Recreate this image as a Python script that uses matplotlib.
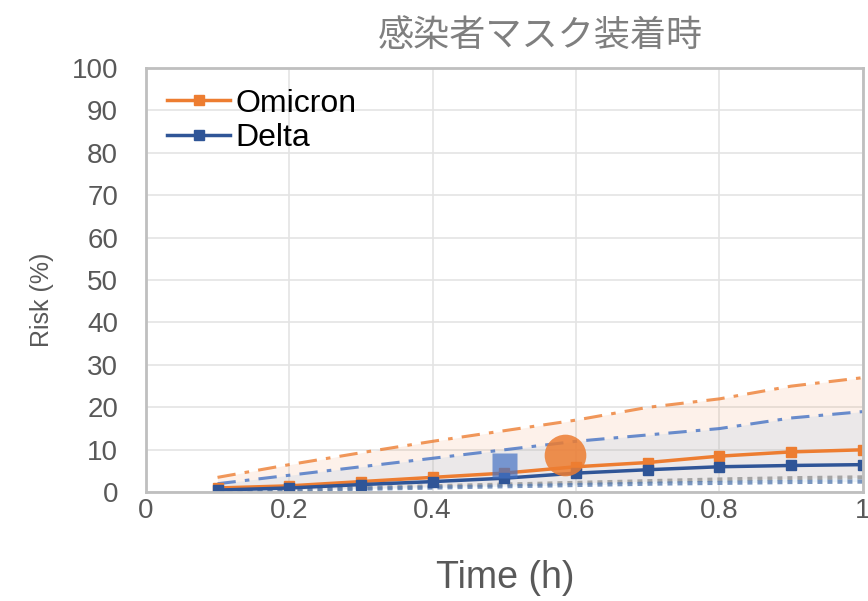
import matplotlib
matplotlib.use("Agg")
import matplotlib.pyplot as plt

plt.rcParams['font.family'] = ['Liberation Sans', 'Noto Sans CJK JP', 'DejaVu Sans']

# データ
time_h = [0.1, 0.2, 0.3, 0.4, 0.5, 0.6, 0.7, 0.8, 0.9, 1.0]

omicron = [1.0, 1.5, 2.5, 3.5, 4.5, 6.0, 7.0, 8.5, 9.5, 10.0]
omicron_upper = [3.5, 6.5, 9.3, 12.0, 14.5, 17.0, 20.0, 22.0, 25.0, 27.0]
omicron_lower = [0.3, 0.6, 1.0, 1.4, 1.8, 2.2, 2.6, 3.0, 3.3, 3.5]

delta = [0.5, 1.0, 1.8, 2.5, 3.3, 4.5, 5.3, 6.0, 6.3, 6.5]
delta_upper = [2.0, 4.0, 6.0, 8.0, 10.0, 12.0, 13.5, 15.0, 17.5, 19.0]
delta_lower = [0.2, 0.5, 0.8, 1.1, 1.4, 1.7, 2.0, 2.2, 2.4, 2.5]

# 強調点
omicron_mark = (0.585, 8.7)
delta_mark = (0.5, 6.4)

c_omi = '#ED7D31'
c_del = '#4472C4'
gray = '#595959'

fig = plt.figure(figsize=(8.68, 6.01), dpi=100)
ax = fig.add_axes([0.168, 0.181, 0.826, 0.706])

ax.fill_between(time_h, omicron_lower, omicron_upper, color=c_omi, alpha=0.10, lw=0)
ax.fill_between(time_h, delta_lower, delta_upper, color='#9DC3E6', alpha=0.18, lw=0)

ax.plot(time_h, omicron_upper, color=c_omi, lw=2.2, ls=(0, (6, 3, 1.5, 3)), alpha=0.8)
ax.plot(time_h, delta_upper, color=c_del, lw=2.2, ls=(0, (6, 3, 1.5, 3)), alpha=0.8)
ax.plot(time_h, omicron_lower, color='#A5A5A5', lw=3, ls=(0, (1.2, 1.2)))
ax.plot(time_h, delta_lower, color='#5B7DB0', lw=3, ls=(0, (1.2, 1.2)), alpha=0.8)

ax.plot(time_h, omicron, color=c_omi, lw=2.5, marker='s', ms=7, label='Omicron')
ax.plot(time_h, delta, color='#2F5597', lw=2.5, marker='s', ms=7, label='Delta')

ax.plot(*omicron_mark, marker='o', ms=30, color=c_omi, alpha=0.85, mec='none')
ax.plot(*delta_mark, marker='s', ms=18, color=c_del, alpha=0.7, mec='none')

ax.set_xlim(0, 1)
ax.set_ylim(0, 100)
ax.set_xticks([0, 0.2, 0.4, 0.6, 0.8, 1])
ax.set_xticklabels(['0', '0.2', '0.4', '0.6', '0.8', '1'])
ax.set_yticks(range(0, 101, 10))
ax.tick_params(labelsize=20, colors=gray, length=0)
ax.tick_params(axis='y', pad=20)
ax.tick_params(axis='x', pad=4)
ax.grid(True, color='#E4E4E4', lw=1.2)
ax.set_axisbelow(True)
for s in ax.spines.values():
    s.set_color('#BFBFBF')
    s.set_linewidth(2)

ax.set_xlabel('Time (h)', fontsize=27, color=gray, va='top')
ax.xaxis.set_label_coords(0.502, -0.16)
ax.set_ylabel('Risk (%)', fontsize=18, color=gray, va='center')
ax.yaxis.set_label_coords(-0.145, 0.453)
ax.set_title('感染者マスク装着時', fontsize=26, color='#7F7F7F', x=0.55, pad=16,
             family=['Noto Sans CJK JP', 'DejaVu Sans'])

ax.legend(loc='upper left', frameon=False, fontsize=23, handlelength=2.0,
          handletextpad=0.15, borderaxespad=0.35, borderpad=0.3, labelspacing=0.15)

fig.savefig('out.png', dpi=100)
